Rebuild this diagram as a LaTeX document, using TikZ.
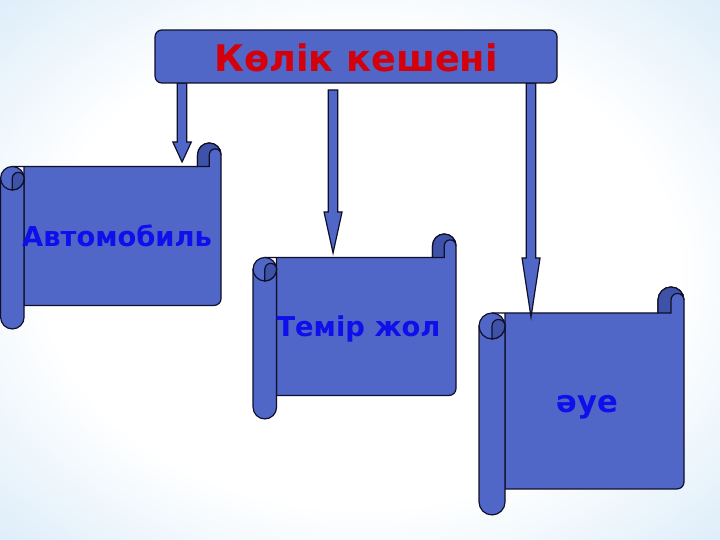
\documentclass[tikz,border=0pt]{standalone}
\usepackage{fontspec}
\setmainfont{DejaVu Sans}
\definecolor{bgblue}{RGB}{165,208,240}
\definecolor{mainblue}{RGB}{80,103,200}
\definecolor{darkblue}{RGB}{62,82,168}
\definecolor{edgecol}{RGB}{15,15,40}
\definecolor{textblue}{RGB}{15,15,235}
\definecolor{titlered}{RGB}{212,0,12}
\pgfdeclareradialshading{slidebg}{\pgfpoint{0bp}{0bp}}{color(0bp)=(white); color(22bp)=(white); color(58bp)=(bgblue); color(75bp)=(bgblue)}
% vertical scroll: x0, y0, x1, y1, roll size
\newcommand{\vscroll}[5]{%
  \draw [scrollbody] ({#1+#5/2},{#2+#5}) -- ({#3-#5},{#2+#5}) -- ({#3-#5},{#2+#5/2}) arc [start angle=180, end angle=360, radius={#5/2}] -- (#3,{#4-#5-7}) arc [start angle=0, end angle=90, radius=7] -- ({#1+#5},{#4-#5}) -- ({#1+#5},{#2+#5}) -- cycle;
  \draw [scrollbody] (#1,{#2+1.5*#5}) -- (#1,{#4-#5/2}) arc [start angle=180, end angle=0, radius={#5/2}] -- ({#1+#5},{#2+1.5*#5}) -- cycle;
  \draw [scrollbody] ({#1+#5/2},{#2+1.5*#5}) circle [radius={#5/2}];
  \draw [scrolldark] ({#1+#5/2},{#2+1.5*#5}) arc [start angle=180, end angle=360, radius={#5/4}] arc [start angle=0, end angle=90, radius={#5/2}] -- cycle;
  \draw [scrolldark] ({#3-#5},{#2+#5}) -- ({#3-#5},{#2+#5/2}) arc [start angle=180, end angle=360, radius={#5/2}] arc [start angle=0, end angle=-180, radius={#5/4}] -- ({#3-#5/2},{#2+#5}) -- cycle;
}

\begin{document}
\begin{tikzpicture}[x=0.75pt,y=0.75pt,yscale=-1,xscale=1,
  scrollbody/.style={draw=edgecol,fill=mainblue,line width=0.9pt},
  scrolldark/.style={draw=edgecol,fill=darkblue,line width=0.9pt},
  blockarrow/.style={draw=edgecol,fill=mainblue,line width=0.9pt,line join=miter},
  scrolltext/.style={anchor=base,inner sep=0.75pt,text=textblue}]
%set diagram left start at 0, and has height of 540
\shade [shading=slidebg] (0,0) rectangle (720,540);

%Shape: Vertical Scroll
\vscroll{0.5}{143}{221}{329}{23.5}
%Shape: Vertical Scroll
\vscroll{253}{234}{456}{419}{23.5}
%Shape: Vertical Scroll
\vscroll{479}{287}{684}{515}{26}

%Shape: Down Arrow
\coordinate (s1) at (182,83);
\draw [blockarrow] (s1) ++(-4.75,0) -- ++(0,59) -- ++(-4.5,0) -- ++(9.25,20) -- ++(9.25,-20) -- ++(-4.5,0) -- ++(0,-59) -- cycle;
%Shape: Down Arrow
\coordinate (s2) at (333,90);
\draw [blockarrow] (s2) ++(-4.75,0) -- ++(0,122) -- ++(-4.25,0) -- ++(9,41) -- ++(9,-41) -- ++(-4.25,0) -- ++(0,-122) -- cycle;
%Shape: Down Arrow
\coordinate (s3) at (531,83);
\draw [blockarrow] (s3) ++(-4.75,0) -- ++(0,175) -- ++(-4.25,0) -- ++(9,59) -- ++(9,-59) -- ++(-4.25,0) -- ++(0,-175) -- cycle;

%Shape: Rounded Rect
\draw [scrollbody,rounded corners=5pt] (155,30) rectangle (557,83);

% Text Node
\node (kesheni) [anchor=base,inner sep=0.75pt,text=titlered,font={\bfseries\fontsize{27.5}{33}\selectfont}] at (356,72) {Көлік кешені};
% Text Node
\node (avto) [scrolltext,font={\bfseries\fontsize{20.5}{24}\selectfont}] at (117,247) {Автомобиль};
% Text Node
\node (temir) [scrolltext,font={\bfseries\fontsize{20.5}{24}\selectfont}] at (358.5,337) {Темір жол};
% Text Node
\node (aue) [scrolltext,font={\bfseries\fontsize{23}{28}\selectfont}] at (587.5,413) {әуе};
\end{tikzpicture}
\end{document}
